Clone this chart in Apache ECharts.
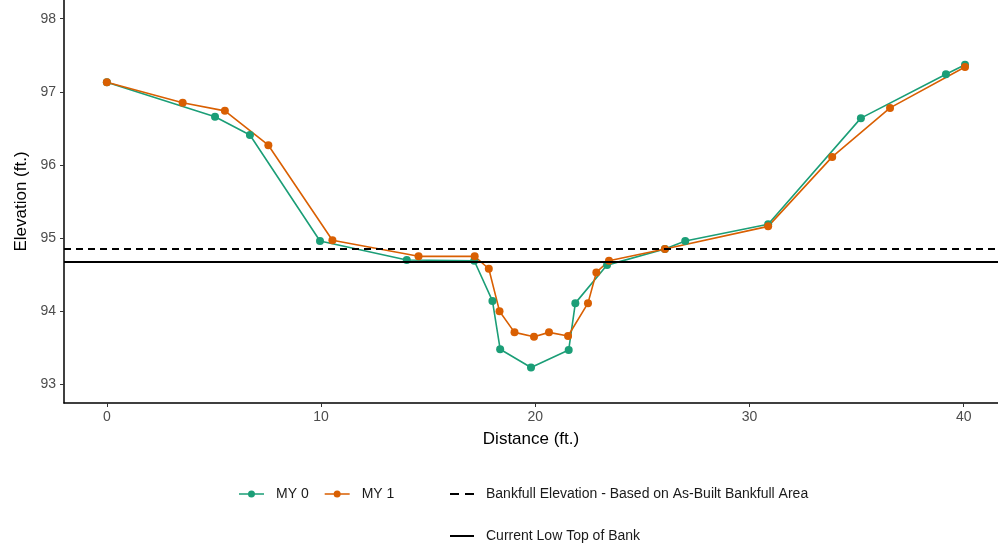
<!DOCTYPE html>
<html>
<head>
<meta charset="utf-8">
<script src="https://cdn.jsdelivr.net/npm/echarts@6/dist/echarts.min.js"></script>
<style>html,body{margin:0;padding:0;background:#fff}#c{width:998px;height:548px}</style>
</head>
<body>
<div id="c"></div>
<script>
const my0X = [0, 5.05, 6.68, 9.95, 14.0, 17.15, 18.0, 18.36, 19.8, 21.56, 21.87, 23.35, 26.05, 27.0, 30.87, 35.2, 39.17, 40.06];
const my0Y = [97.13, 96.66, 96.41, 94.96, 94.70, 94.69, 94.14, 93.48, 93.23, 93.47, 94.11, 94.63, 94.85, 94.96, 95.19, 96.64, 97.24, 97.37];
const my1X = [0, 3.54, 5.51, 7.54, 10.53, 14.55, 17.17, 17.83, 18.33, 19.03, 19.94, 20.64, 21.53, 22.46, 22.85, 23.44, 26.05, 30.87, 33.86, 36.56, 40.06];
const my1Y = [97.13, 96.85, 96.74, 96.27, 94.97, 94.75, 94.75, 94.58, 94.00, 93.71, 93.65, 93.71, 93.66, 94.11, 94.53, 94.69, 94.85, 95.16, 96.11, 96.78, 97.34];
const bankfullElev = 94.85;
const lowTopBank = 94.68;
const xTicks = [0, 10, 20, 30, 40];
const yTicks = [93, 94, 95, 96, 97, 98];

const font = '"Liberation Sans", Arial, sans-serif';
const pairs = (xs, ys) => xs.map((x, i) => [x, ys[i]]);
const NAME_BF = 'Bankfull Elevation - Based on As-Built Bankfull Area';
const NAME_LT = 'Current Low Top of Bank';
const iconPoint = 'path://M0,6.2h25v1.6H0z M12.5,3.5a3.5,3.5 0 1,1 -0.01,0z';
const iconDash = 'path://M0,6h9v2H0z M15,6h9v2H15z';
const iconSolid = 'path://M0,6h24v2H0z';
const legText = {fontSize: 14, color: '#1a1a1a', fontFamily: font, padding: [0, 0, 0, 7]};

const chart = echarts.init(document.getElementById('c'), null, {renderer: 'canvas'});
chart.setOption({
  animation: false,
  backgroundColor: '#fff',
  textStyle: {fontFamily: font},
  grid: {left: 64, right: 0, top: 0, bottom: 145, containLabel: false},
  xAxis: {
    type: 'value', min: -2, max: 41.6,
    name: 'Distance (ft.)', nameLocation: 'middle', nameGap: 28,
    nameTextStyle: {fontSize: 17, color: '#000', fontFamily: font},
    axisLine: {show: true, onZero: false, lineStyle: {color: '#000', width: 1.5}},
    axisTick: {show: true, length: 4, lineStyle: {color: '#333'}, customValues: xTicks},
    axisLabel: {fontSize: 14, color: '#4d4d4d', margin: 7, customValues: xTicks, fontFamily: font},
    splitLine: {show: false}
  },
  yAxis: {
    type: 'value', min: 92.744, max: 98.256,
    name: 'Elevation (ft.)', nameLocation: 'middle', nameGap: 33, nameRotate: 90,
    nameTextStyle: {fontSize: 17, color: '#000', fontFamily: font},
    axisLine: {show: true, onZero: false, lineStyle: {color: '#000', width: 1.5}},
    axisTick: {show: true, length: 4, lineStyle: {color: '#333'}, customValues: yTicks},
    axisLabel: {fontSize: 14, color: '#4d4d4d', margin: 8, customValues: yTicks, fontFamily: font},
    splitLine: {show: false}
  },
  legend: [
    {
      left: 239, top: 487, padding: 0, itemWidth: 25, itemHeight: 14, itemGap: 16,
      textStyle: legText,
      data: [{name: 'MY 0', icon: iconPoint}, {name: 'MY 1', icon: iconPoint}]
    },
    {
      left: 450, top: 487, padding: 0, itemWidth: 24, itemHeight: 14,
      textStyle: legText,
      data: [{name: NAME_BF, icon: iconDash}]
    },
    {
      left: 450, top: 529, padding: 0, itemWidth: 24, itemHeight: 14,
      textStyle: legText,
      data: [{name: NAME_LT, icon: iconSolid}]
    }
  ],
  series: [
    {
      name: NAME_BF,
      type: 'line', data: [], symbol: 'none',
      itemStyle: {color: '#000'},
      lineStyle: {color: '#000', width: 1.8, type: [7, 5]},
      markLine: {
        silent: true, symbol: 'none', label: {show: false},
        lineStyle: {color: '#000', width: 1.8, type: [7, 5]},
        data: [{yAxis: bankfullElev}]
      }
    },
    {
      name: NAME_LT,
      type: 'line', data: [], symbol: 'none',
      itemStyle: {color: '#000'},
      lineStyle: {color: '#000', width: 1.8, type: 'solid'},
      markLine: {
        silent: true, symbol: 'none', label: {show: false},
        lineStyle: {color: '#000', width: 1.8, type: 'solid'},
        data: [{yAxis: lowTopBank}]
      }
    },
    {
      name: 'MY 0', type: 'line', data: pairs(my0X, my0Y),
      symbol: 'circle', symbolSize: 8,
      itemStyle: {color: '#1b9e77'},
      lineStyle: {color: '#1b9e77', width: 1.6}
    },
    {
      name: 'MY 1', type: 'line', data: pairs(my1X, my1Y),
      symbol: 'circle', symbolSize: 8,
      itemStyle: {color: '#d95f02'},
      lineStyle: {color: '#d95f02', width: 1.6}
    }
  ]
});
</script>
</body>
</html>
